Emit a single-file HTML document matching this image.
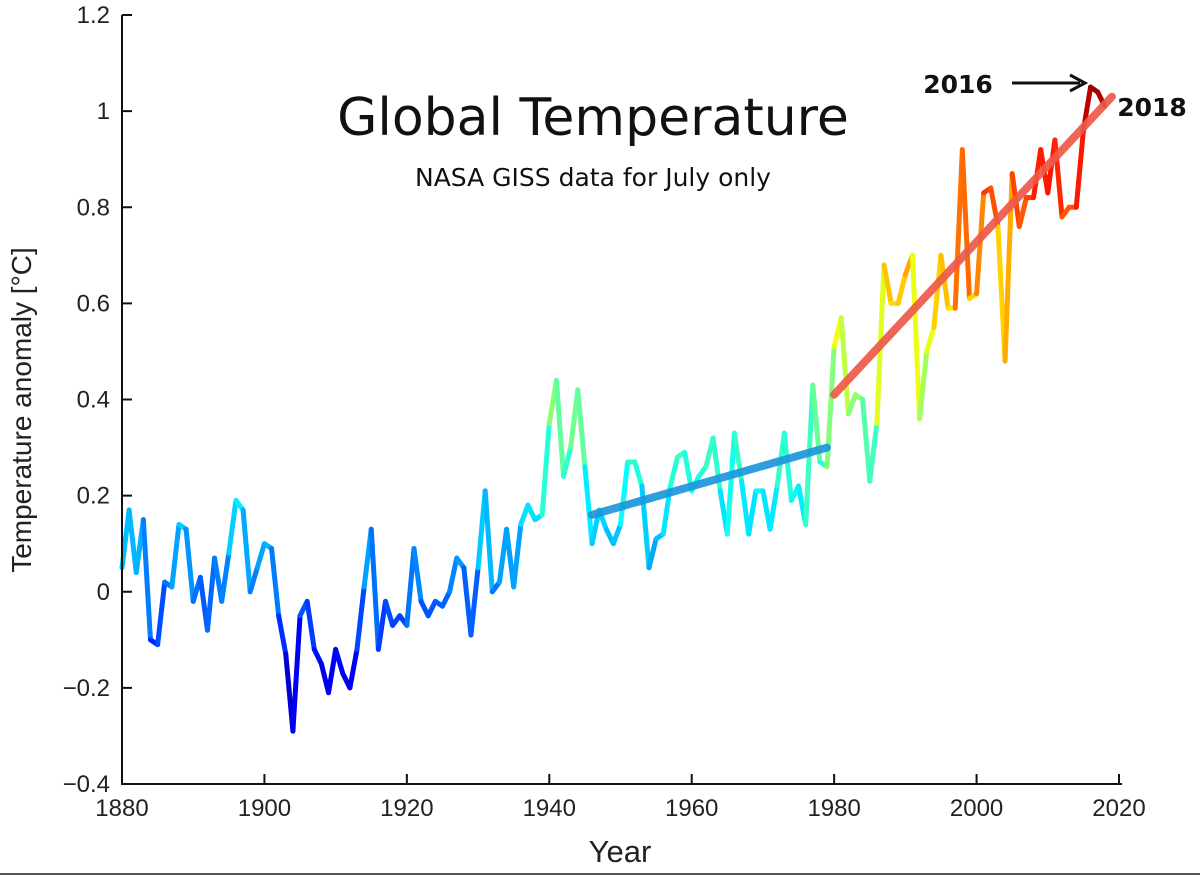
<!DOCTYPE html>
<html><head><meta charset="utf-8"><style>
body{margin:0;background:#fff;}
svg{display:block;font-family:"Liberation Sans",Arial,sans-serif;}
</style></head><body>
<svg id="chart" width="1200" height="876" viewBox="0 0 1200 876">
<g id="marks"></g>
<g id="axes"></g>
<text x="593" y="135" font-size="52" text-anchor="middle" fill="#111" font-family="'DejaVu Sans','Liberation Sans',sans-serif">Global Temperature</text>
<text x="593" y="186" font-size="25" text-anchor="middle" fill="#111" font-family="'DejaVu Sans','Liberation Sans',sans-serif">NASA GISS data for July only</text>
<text x="958" y="93" font-size="25" font-weight="bold" text-anchor="middle" fill="#111" font-family="'DejaVu Sans','Liberation Sans',sans-serif">2016</text>
<g><line x1="1012" y1="83" x2="1080" y2="83" stroke="#111" stroke-width="3"/><path d="M1070,75 L1085,83 L1070,91" fill="none" stroke="#111" stroke-width="3"/></g>
<text x="1152" y="116" font-size="25" font-weight="bold" text-anchor="middle" fill="#111" font-family="'DejaVu Sans','Liberation Sans',sans-serif">2018</text>
<text x="620" y="862" font-size="31" text-anchor="middle" fill="#222">Year</text>
<text transform="translate(31,410) rotate(-90)" font-size="28" text-anchor="middle" fill="#222">Temperature anomaly [°C]</text>
<line x1="0" y1="874" x2="1200" y2="874" stroke="#555" stroke-width="2"/>
</svg>
<script>
const startYear = 1880;
const anomalies = [0.05,0.17,0.04,0.15,-0.10,-0.11,0.02,0.01,0.14,0.13,-0.02,0.03,-0.08,0.07,-0.02,0.08,0.19,0.17,0.00,0.05,
0.10,0.09,-0.05,-0.13,-0.29,-0.05,-0.02,-0.12,-0.15,-0.21,-0.12,-0.17,-0.20,-0.12,0.01,0.13,-0.12,-0.02,-0.07,-0.05,
-0.07,0.09,-0.02,-0.05,-0.02,-0.03,0.00,0.07,0.05,-0.09,0.05,0.21,0.00,0.02,0.13,0.01,0.14,0.18,0.15,0.16,
0.35,0.44,0.24,0.30,0.42,0.26,0.10,0.17,0.13,0.10,0.14,0.27,0.27,0.22,0.05,0.11,0.12,0.22,0.28,0.29,
0.21,0.24,0.26,0.32,0.21,0.12,0.33,0.23,0.12,0.21,0.21,0.13,0.22,0.33,0.19,0.22,0.14,0.43,0.27,0.26,
0.51,0.57,0.37,0.41,0.40,0.23,0.35,0.68,0.60,0.60,0.66,0.70,0.36,0.50,0.55,0.70,0.59,0.59,0.92,0.61,
0.62,0.83,0.84,0.76,0.48,0.87,0.76,0.82,0.82,0.92,0.83,0.94,0.78,0.80,0.80,0.96,1.05,1.04,1.01];
const trendYears1 = [1946,1979];
const trendValues1 = [0.16,0.30];
const trendYears2 = [1980,2019];
const trendValues2 = [0.41,1.03];
const xTicks = [1880,1900,1920,1940,1960,1980,2000,2020];
const yTicks = [-0.4,-0.2,0,0.2,0.4,0.6,0.8,1,1.2];
const yTickLabels = ["\u22120.4","\u22120.2","0","0.2","0.4","0.6","0.8","1","1.2"];

const X0=122,X1=1119,Y0=784,Y1=15;
const xs=y=>X0+(y-1880)/140*(X1-X0);
const ys=v=>Y0-(v+0.4)/1.6*(Y0-Y1);
const NS="http://www.w3.org/2000/svg";
function jet(t){t=Math.max(0,Math.min(1,t));
 const r=Math.max(0,Math.min(1,1.5-Math.abs(4*t-3))),g=Math.max(0,Math.min(1,1.5-Math.abs(4*t-2))),b=Math.max(0,Math.min(1,1.5-Math.abs(4*t-1)));
 return `rgb(${Math.round(r*255)},${Math.round(g*255)},${Math.round(b*255)})`;}
const marks=document.getElementById('marks'),axes=document.getElementById('axes');
for(let i=0;i<anomalies.length-1;i++){
 const l=document.createElementNS(NS,'line');
 l.setAttribute('x1',xs(startYear+i));l.setAttribute('y1',ys(anomalies[i]));
 l.setAttribute('x2',xs(startYear+i+1));l.setAttribute('y2',ys(anomalies[i+1]));
 const v=(anomalies[i]+anomalies[i+1])/2;
 l.setAttribute('stroke',jet((v+0.33)/1.42));l.setAttribute('stroke-width','5');l.setAttribute('stroke-linecap','round');
 
 
 marks.appendChild(l);}
function trend(yrs,vals,color,name){
 const l=document.createElementNS(NS,'line');
 l.setAttribute('x1',xs(yrs[0]));l.setAttribute('y1',ys(vals[0]));l.setAttribute('x2',xs(yrs[1]));l.setAttribute('y2',ys(vals[1]));
 l.setAttribute('stroke',color);l.setAttribute('stroke-width','8');l.setAttribute('stroke-linecap','round');l.setAttribute('opacity','0.92');
 
 
 marks.appendChild(l);}
trend(trendYears1,trendValues1,'#1e96dc','trend-line-1946-1979');
trend(trendYears2,trendValues2,'#ef5a48','trend-line-1980-2019');
const ax=document.createElementNS(NS,'path');
ax.setAttribute('d',`M${X0},${Y1} L${X0},${Y0} L${X1+3},${Y0}`);ax.setAttribute('fill','none');ax.setAttribute('stroke','#111');ax.setAttribute('stroke-width','2');


axes.appendChild(ax);
xTicks.forEach(t=>{const x=xs(t);
 const l=document.createElementNS(NS,'line');l.setAttribute('x1',x);l.setAttribute('x2',x);l.setAttribute('y1',Y0);l.setAttribute('y2',Y0-10);l.setAttribute('stroke','#111');l.setAttribute('stroke-width','2');
 
 
 axes.appendChild(l);
 const tx=document.createElementNS(NS,'text');tx.setAttribute('x',x);tx.setAttribute('y',Y0+32);tx.setAttribute('font-size','24');tx.setAttribute('text-anchor','middle');tx.setAttribute('fill','#222');tx.textContent=t;
 
 
 axes.appendChild(tx);});
yTicks.forEach((t,i)=>{const y=ys(t);
 const l=document.createElementNS(NS,'line');l.setAttribute('x1',X0);l.setAttribute('x2',X0+10);l.setAttribute('y1',y);l.setAttribute('y2',y);l.setAttribute('stroke','#111');l.setAttribute('stroke-width','2');
 
 
 axes.appendChild(l);
 const tx=document.createElementNS(NS,'text');tx.setAttribute('x',X0-12);tx.setAttribute('y',y+8);tx.setAttribute('font-size','24');tx.setAttribute('text-anchor','end');tx.setAttribute('fill','#222');tx.textContent=yTickLabels[i];
 
 
 axes.appendChild(tx);});
</script>
</body></html>
